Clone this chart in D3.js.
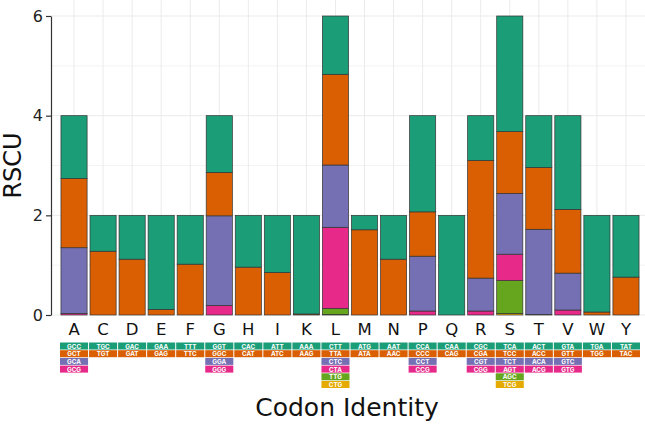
<!DOCTYPE html>
<html>
<head>
<meta charset="utf-8">
<script src="https://cdn.jsdelivr.net/npm/d3@7"></script>
<style>
  body { margin: 0; background: #fff; }
  svg { display: block; font-family: "DejaVu Sans", sans-serif; }
</style>
</head>
<body>
<svg id="chart"></svg>
<script>
// amino acids, in axis order
const aminoAcids = ['A','C','D','E','F','G','H','I','K','L','M','N','P','Q','R','S','T','V','W','Y']

// codons per amino acid, top of stack first
const codons = {
  A: ['GCC','GCT','GCA','GCG'],
  C: ['TGC','TGT'],
  D: ['GAC','GAT'],
  E: ['GAA','GAG'],
  F: ['TTT','TTC'],
  G: ['GGT','GGC','GGA','GGG'],
  H: ['CAC','CAT'],
  I: ['ATT','ATC'],
  K: ['AAA','AAG'],
  L: ['CTT','TTA','CTC','CTA','TTG','CTG'],
  M: ['ATG','ATA'],
  N: ['AAT','AAC'],
  P: ['CCA','CCC','CCT','CCG'],
  Q: ['CAA','CAG'],
  R: ['CGC','CGA','CGT','CGG'],
  S: ['TCA','TCC','TCT','AGT','AGC','TCG'],
  T: ['ACT','ACC','ACA','ACG'],
  V: ['GTA','GTT','GTC','GTG'],
  W: ['TGA','TGG'],
  Y: ['TAT','TAC'],
}

// RSCU values, same order as codons
const rscu = {
  A: [1.26, 1.39, 1.32, 0.03],
  C: [0.72, 1.28],
  D: [0.88, 1.12],
  E: [1.89, 0.11],
  F: [0.98, 1.02],
  G: [1.14, 0.87, 1.80, 0.19],
  H: [1.04, 0.96],
  I: [1.15, 0.85],
  K: [1.98, 0.02],
  L: [1.17, 1.82, 1.25, 1.63, 0.12, 0.01],
  M: [0.29, 1.71],
  N: [0.88, 1.12],
  P: [1.93, 0.89, 1.10, 0.08],
  Q: [2.00, 0.00],
  R: [0.90, 2.36, 0.66, 0.08],
  S: [2.32, 1.24, 1.22, 0.53, 0.66, 0.03],
  T: [1.04, 1.24, 1.71, 0.01],
  V: [1.88, 1.28, 0.74, 0.10],
  W: [1.94, 0.06],
  Y: [1.24, 0.76],
}

const yTicks = [0, 2, 4, 6]

const width = 645
const height = 424
const margin = {top: 16, right: 4.5, bottom: 109, left: 59.5}

const svg = d3.select('svg#chart')
  .attr('width', width)
  .attr('height', height)
  .attr('viewBox', `0 0 ${width} ${height}`)

const colour = d3.scaleOrdinal()
  .domain([0, 1, 2, 3, 4, 5])
  .range(d3.schemeDark2)

const x = d3.scaleBand()
  .domain(aminoAcids)
  .range([margin.left, width - margin.right])
  .paddingInner(0.1)
  .paddingOuter(0.05)

const y = d3.scaleLinear()
  .domain([0, 6])
  .range([height - margin.bottom, margin.top])

// stacked segments: bottom is the last codon
const segments = []
for (const aa of aminoAcids) {
  const vals = rscu[aa]
  let base = 0
  for (let i = vals.length - 1; i >= 0; i--) {
    segments.push({aa, i, codon: codons[aa][i], y0: base, y1: base + vals[i]})
    base += vals[i]
  }
}

// grid
const grid = svg.append('g')
grid.selectAll('line.minor')
  .data([1, 3, 5])
  .join('line')
    .attr('x1', 51).attr('x2', width)
    .attr('y1', d => y(d)).attr('y2', d => y(d))
    .attr('stroke', '#f3f3f3')
grid.selectAll('line.major')
  .data(yTicks)
  .join('line')
    .attr('x1', 51).attr('x2', width)
    .attr('y1', d => y(d)).attr('y2', d => y(d))
    .attr('stroke', '#ebebeb')
grid.selectAll('line.vert')
  .data(aminoAcids)
  .join('line')
    .attr('x1', d => x(d) + x.bandwidth() / 2)
    .attr('x2', d => x(d) + x.bandwidth() / 2)
    .attr('y1', 0).attr('y2', y(0))
    .attr('stroke', '#ebebeb')

// bars
svg.append('g')
  .selectAll('rect')
  .data(segments)
  .join('rect')
    .attr('x', d => x(d.aa))
    .attr('width', x.bandwidth())
    .attr('y', d => y(d.y1))
    .attr('height', d => y(d.y0) - y(d.y1))
    .attr('fill', d => colour(d.i))
    .attr('stroke', '#333')
    .attr('stroke-width', 0.7)

// y axis
const yAxis = svg.append('g')
  .attr('transform', 'translate(51,0)')
  .call(d3.axisLeft(y).tickValues(yTicks).tickFormat(d3.format('d'))
    .tickSize(5).tickPadding(3).tickSizeOuter(0))
yAxis.select('.domain').attr('stroke', '#333').attr('stroke-width', 1.2)
yAxis.selectAll('.tick line').attr('stroke', '#333').attr('stroke-width', 1.2)
yAxis.selectAll('.tick text')
  .attr('font-size', 16)
  .attr('fill', '#222')
  .attr('font-family', '"DejaVu Sans", sans-serif')

svg.append('text')
  .attr('transform', `translate(21,${y(3)}) rotate(-90)`)
  .attr('text-anchor', 'middle')
  .attr('font-size', 24)
  .attr('fill', '#111')
  .text('RSCU')

// x labels
svg.append('g')
  .selectAll('text')
  .data(aminoAcids)
  .join('text')
    .attr('x', d => x(d) + x.bandwidth() / 2)
    .attr('y', 335)
    .attr('text-anchor', 'middle')
    .attr('font-size', 16.5)
    .attr('fill', '#111')
    .text(d => d)

// codon table
const cells = []
for (const aa of aminoAcids) {
  codons[aa].forEach((c, i) => cells.push({aa, i, codon: c}))
}
const rowStep = 7.7
const rowTop = 342.5
const table = svg.append('g')
const step = x.step()
table.selectAll('rect')
  .data(cells)
  .join('rect')
    .attr('x', d => x(d.aa) + x.bandwidth() / 2 - step / 2 + 0.5)
    .attr('width', step - 1)
    .attr('y', d => rowTop + d.i * rowStep)
    .attr('height', rowStep - 0.7)
    .attr('fill', d => colour(d.i))
table.selectAll('text')
  .data(cells)
  .join('text')
    .attr('x', d => x(d.aa) + x.bandwidth() / 2)
    .attr('y', d => rowTop + d.i * rowStep + rowStep / 2)
    .attr('dy', '0.36em')
    .attr('text-anchor', 'middle')
    .attr('font-size', 6.3)
    .attr('font-weight', 'bold')
    .attr('font-family', 'Inter, sans-serif')
    .attr('fill', '#fff')
    .text(d => d.codon)

svg.append('text')
  .attr('x', 347)
  .attr('y', 416)
  .attr('text-anchor', 'middle')
  .attr('font-size', 25)
  .attr('fill', '#111')
  .text('Codon Identity')
</script>
</body>
</html>
